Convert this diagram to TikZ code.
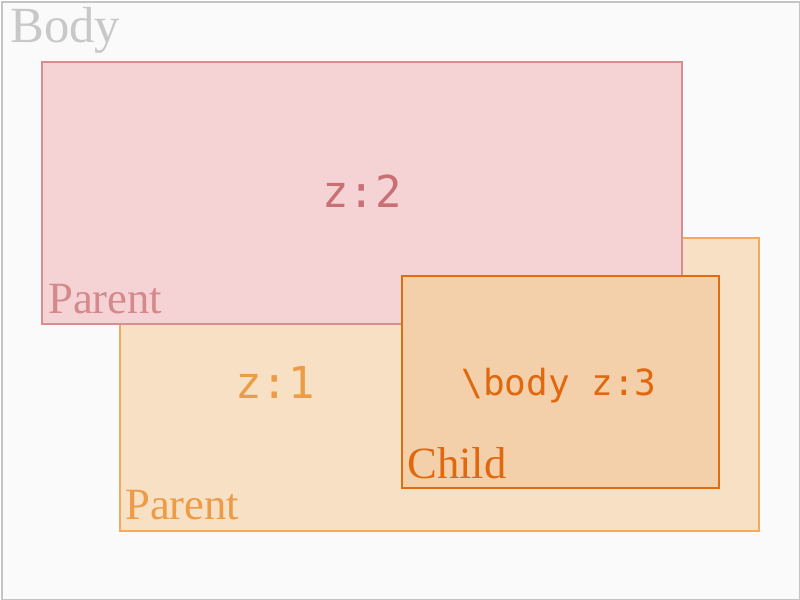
\documentclass[tikz,border=0pt]{standalone}
\usepackage{fontspec}
\setmainfont{Liberation Serif}
\setmonofont{DejaVu Sans Mono}
\definecolor{bgc}{HTML}{FAFAFA}
\definecolor{framec}{HTML}{C4C4C4}
\definecolor{bodytxt}{HTML}{C8C8C8}
\definecolor{pinkfill}{HTML}{F5D2D3}
\definecolor{pinkline}{HTML}{D68E91}
\definecolor{pinktxt}{HTML}{D48A8C}
\definecolor{pinkz}{HTML}{C87074}
\definecolor{orfill}{HTML}{F8E0C4}
\definecolor{orline}{HTML}{F0AA62}
\definecolor{ortxt}{HTML}{EC9C46}
\definecolor{chfill}{HTML}{F4D0AA}
\definecolor{chline}{HTML}{E06C10}
\definecolor{chtxt}{HTML}{E0680E}
\tikzset{
  box/.style={rectangle, inner sep=0pt, anchor=north west},
  serifl/.style={anchor=base west, inner sep=0pt, font=\fontsize{33.5}{38}\selectfont},
  monol/.style={anchor=base, inner sep=0pt, font=\ttfamily\fontsize{33}{38}\selectfont},
}
\begin{document}
\begin{tikzpicture}[x=0.75pt,y=-0.75pt]
\useasboundingbox (0,0) rectangle (800,600);
\node[box, fill=bgc, draw=framec, line width=1.5pt, minimum width=598.5pt, minimum height=448.5pt] (frame) at (1,1) {};
\node[anchor=base west, inner sep=0pt, text=bodytxt, font=\fontsize{38}{42}\selectfont] (bodylbl) at (10,42) {Body};
% z:1 parent
\node[box, fill=orfill, draw=orline, line width=1.3pt, minimum width=639*0.75pt, minimum height=293*0.75pt] (p1) at (119,237) {};
% z:2 parent
\node[box, fill=pinkfill, draw=pinkline, line width=1.3pt, minimum width=640*0.75pt, minimum height=262*0.75pt] (p2) at (41,61) {};
% child
\node[box, fill=chfill, draw=chline, line width=1.6pt, minimum width=317*0.75pt, minimum height=212*0.75pt] (ch) at (401,275) {};
\node[monol, text=pinkz] (z2) at (362,207) {z:2};
\node[serifl, text=pinktxt] (p2lbl) at (48,313) {Parent};
\node[monol, text=ortxt] (z1) at (275,398) {z:1};
\node[serifl, text=ortxt] (p1lbl) at (125,519) {Parent};
\node[monol, text=chtxt, font=\ttfamily\fontsize{27}{32}\selectfont] (z3) at (559,395) {\textbackslash body z:3};
\node[serifl, text=chtxt] (chlbl) at (407,478) {Child};
\end{tikzpicture}
\end{document}
